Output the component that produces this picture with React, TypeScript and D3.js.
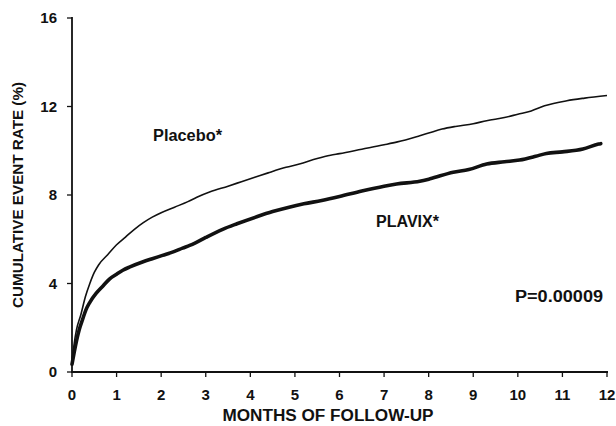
import React from "react";
import * as d3 from "d3";

// months of follow-up, cumulative event rate (%)
const placeboMonths = [0, 0.05, 0.1, 0.2, 0.3, 0.4, 0.5, 0.6, 0.8, 1.0, 1.2, 1.4, 1.6, 1.8, 2.0, 2.3, 2.6, 2.8, 3.1, 3.5, 3.8, 4.1, 4.4, 4.8, 5.1, 5.5, 5.8, 6.0, 6.5, 7.0, 7.3, 7.8, 8.0, 8.3, 8.6, 9.0, 9.3, 9.7, 10.0, 10.3, 10.6, 11.1, 11.5, 12.0];
const placeboRate = [0.4, 1.3, 1.9, 2.6, 3.4, 4.0, 4.5, 4.85, 5.3, 5.75, 6.1, 6.45, 6.75, 7.0, 7.2, 7.45, 7.7, 7.9, 8.15, 8.4, 8.6, 8.8, 9.0, 9.25, 9.4, 9.65, 9.8, 9.87, 10.07, 10.27, 10.4, 10.68, 10.8, 10.98, 11.1, 11.22, 11.36, 11.5, 11.65, 11.8, 12.03, 12.26, 12.38, 12.5];

const plavixMonths = [0, 0.05, 0.1, 0.16, 0.25, 0.31, 0.4, 0.54, 0.7, 0.84, 1.0, 1.14, 1.3, 1.58, 1.8, 2.03, 2.3, 2.48, 2.64, 2.78, 3.0, 3.38, 3.7, 4.12, 4.5, 4.87, 5.2, 5.6, 6.0, 6.5, 7.0, 7.28, 7.8, 8.03, 8.55, 8.9, 9.3, 9.7, 10.04, 10.4, 10.64, 11.0, 11.46, 11.81, 11.86];
const plavixRate = [0.35, 0.9, 1.4, 1.9, 2.45, 2.8, 3.15, 3.55, 3.9, 4.2, 4.42, 4.6, 4.75, 4.97, 5.12, 5.27, 5.45, 5.6, 5.72, 5.85, 6.08, 6.45, 6.7, 7.0, 7.25, 7.45, 7.6, 7.75, 7.93, 8.18, 8.4, 8.5, 8.62, 8.73, 9.03, 9.15, 9.4, 9.5, 9.58, 9.75, 9.88, 9.95, 10.08, 10.3, 10.32];

const xTicks = [0, 1, 2, 3, 4, 5, 6, 7, 8, 9, 10, 11, 12];
const yTicks = [0, 4, 8, 12, 16];

const font = "'Liberation Sans', Arial, Helvetica, sans-serif";
const ink = "#111";

const App = () => {
  const width = 616;
  const height = 426;
  const margin = { left: 72, right: 9, top: 18, bottom: 54 };

  const x = d3.scaleLinear().domain([0, 12]).range([margin.left, width - margin.right]);
  const y = d3.scaleLinear().domain([0, 16]).range([height - margin.bottom, margin.top]);

  const line = d3
    .line<[number, number]>()
    .x((d) => x(d[0]))
    .y((d) => y(d[1]))
    .curve(d3.curveMonotoneX);

  const placebo = placeboMonths.map((m, i) => [m, placeboRate[i]] as [number, number]);
  const plavix = plavixMonths.map((m, i) => [m, plavixRate[i]] as [number, number]);

  const x0 = x(0);
  const y0 = y(0);

  return (
    <svg
      width={width}
      height={height}
      style={{ position: "absolute", left: 0, top: 0, background: "#fff" }}
      fontFamily={font}
      fontWeight="bold"
      fill={ink}
    >
      {/* axes */}
      <line x1={x0} x2={x0} y1={y(16) - 1} y2={y0 + 1} stroke={ink} strokeWidth={1.8} />
      <line x1={x0 - 1} x2={x(12) + 1} y1={y0} y2={y0} stroke={ink} strokeWidth={1.8} />
      {yTicks.map((t) => (
        <g key={"y" + t}>
          <line x1={x0 - 5} x2={x0} y1={y(t)} y2={y(t)} stroke={ink} strokeWidth={1.3} />
          <text x={57} y={y(t) + 5} textAnchor="end" fontSize={15}>
            {t}
          </text>
        </g>
      ))}
      {xTicks.map((t) => (
        <g key={"x" + t}>
          <line x1={x(t)} x2={x(t)} y1={y0} y2={y0 + 5} stroke={ink} strokeWidth={1.3} />
          <text x={x(t)} y={400} textAnchor="middle" fontSize={15}>
            {t}
          </text>
        </g>
      ))}

      {/* axis titles */}
      <text x={328} y={421} textAnchor="middle" fontSize={16} textLength={211} lengthAdjust="spacingAndGlyphs">
        MONTHS OF FOLLOW-UP
      </text>
      <text
        transform={`translate(23,195) rotate(-90)`}
        textAnchor="middle"
        fontSize={15}
        textLength={226}
        lengthAdjust="spacingAndGlyphs"
      >
        CUMULATIVE EVENT RATE (%)
      </text>

      {/* curves */}
      <path d={line(placebo) || ""} fill="none" stroke={ink} strokeWidth={1.6} strokeLinejoin="round" />
      <path d={line(plavix) || ""} fill="none" stroke={ink} strokeWidth={3.6} strokeLinejoin="round" strokeLinecap="round" />

      {/* labels */}
      <text x={153} y={141} fontSize={16} textLength={69} lengthAdjust="spacingAndGlyphs">
        Placebo*
      </text>
      <text x={376} y={227} fontSize={16} textLength={63} lengthAdjust="spacingAndGlyphs">
        PLAVIX*
      </text>
      <text x={515} y={302} fontSize={16} textLength={88} lengthAdjust="spacingAndGlyphs">
        P=0.00009
      </text>
    </svg>
  );
};

export default App;
